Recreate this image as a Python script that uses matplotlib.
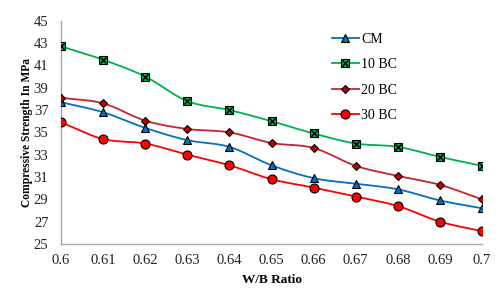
import numpy as np
import matplotlib
matplotlib.use("Agg")
import matplotlib.pyplot as plt

wb = [0.60, 0.61, 0.62, 0.63, 0.64, 0.65, 0.66, 0.67, 0.68, 0.69, 0.70]
cm = [37.7, 36.8, 35.4, 34.3, 33.7, 32.05, 30.9, 30.4, 29.9, 28.9, 28.2]
bc10 = [42.7, 41.5, 40.0, 37.8, 37.0, 36.0, 34.9, 34.0, 33.7, 32.8, 32.0]
bc20 = [38.1, 37.6, 36.05, 35.3, 35.0, 34.05, 33.6, 32.0, 31.1, 30.3, 29.0]
bc30 = [35.9, 34.4, 34.0, 33.0, 32.05, 30.8, 30.05, 29.25, 28.4, 27.0, 26.15]
xticks = ["0.6", "0.61", "0.62", "0.63", "0.64", "0.65", "0.66", "0.67", "0.68", "0.69", "0.7"]
yticks = [25, 27, 29, 31, 33, 35, 37, 39, 41, 43, 45]


def smooth(x, y, n=20):
    # Catmull-Rom style smoothing like Excel's smoothed lines
    x = np.asarray(x, float); y = np.asarray(y, float)
    px = np.concatenate([[2 * x[0] - x[1]], x, [2 * x[-1] - x[-2]]])
    py = np.concatenate([[2 * y[0] - y[1]], y, [2 * y[-1] - y[-2]]])
    xs, ys = [], []
    for i in range(1, len(px) - 2):
        t = np.linspace(0, 1, n, endpoint=False)
        for arr, out in ((px, xs), (py, ys)):
            p0, p1, p2, p3 = arr[i - 1], arr[i], arr[i + 1], arr[i + 2]
            out.extend(0.5 * ((2 * p1) + (-p0 + p2) * t + (2 * p0 - 5 * p1 + 4 * p2 - p3) * t ** 2
                              + (-p0 + 3 * p1 - 3 * p2 + p3) * t ** 3))
    xs.append(x[-1]); ys.append(y[-1])
    return np.array(xs), np.array(ys)


plt.rcParams['font.family'] = ['Liberation Serif', 'DejaVu Serif']
fig = plt.figure(figsize=(4.99, 2.92), dpi=100)
ax = fig.add_axes([61 / 499, 1 - 244 / 292, (482 - 61) / 499, (244 - 20.7) / 292])

series = [
    ("CM", cm, "#0070C0", "^", "#0070C0", 5.5),
    ("10 BC", bc10, "#00B050", "s", "#00B050", 5.5),
    ("20 BC", bc20, "#C0262D", "D", "#C00000", 4),
    ("30 BC", bc30, "#FF0000", "o", "#FF0000", 6.5),
]
handles = []
for name, vals, lc, mk, fc, ms in series:
    sx, sy = smooth(wb, vals)
    ax.plot(sx, sy, color=lc, lw=1.3, zorder=2)
    ax.plot(wb, vals, linestyle='none', marker=mk, ms=ms, mfc=fc, mec='black', mew=0.8, zorder=3)
    proxy, = ax.plot([], [], color=lc, lw=1.3, marker=mk, ms=ms, mfc=fc, mec='black', mew=0.8)
    if name == "10 BC":
        ax.plot(wb, vals, linestyle='none', marker='x', ms=4.5, mec='black', mew=1.0, zorder=4)
        xp, = ax.plot([], [], linestyle='none', marker='x', ms=4.5, mec='black', mew=1.0)
        handles.append(((proxy, xp), name))
    else:
        handles.append((proxy, name))

ax.set_xlim(0.6, 0.7)
ax.set_ylim(25, 45)
ax.set_xticks(wb)
ax.set_xticklabels(xticks)
ax.set_yticks(yticks)
ax.tick_params(axis='both', length=0, labelsize=10.5, colors='#222222')
ax.tick_params(axis='x', pad=7.5)
ax.tick_params(axis='y', pad=9)
for s in ('top', 'right'):
    ax.spines[s].set_visible(False)
for s in ('left', 'bottom'):
    ax.spines[s].set_color('#A6A6A6')
    ax.spines[s].set_linewidth(1.0)

ax.set_xlabel("W/B Ratio", fontsize=9.5, fontweight='bold', labelpad=5)
ax.set_ylabel("Compressive Strength In MPa", fontsize=8.3, fontweight='bold', labelpad=0.5)

leg = ax.legend([h for h, _ in handles], [n for _, n in handles], loc='upper left',
                bbox_to_anchor=(0.613, 1.003), frameon=False, fontsize=10,
                handlelength=2.0, labelspacing=0.9, handletextpad=0.15)

fig.savefig("out.png", dpi=100)
